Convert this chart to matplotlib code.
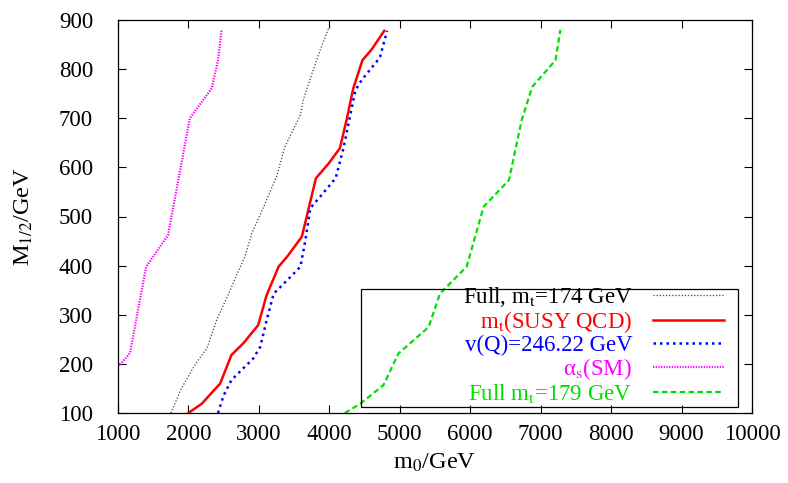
import matplotlib
matplotlib.use("Agg")
import matplotlib.pyplot as plt
from matplotlib.patches import Rectangle

plt.rcParams['font.family'] = ['Liberation Serif', 'DejaVu Serif']
plt.rcParams['mathtext.fontset'] = 'stix'

## curves: (m0, M1/2)
full174_m0 = [1750, 1900, 2100, 2260, 2400, 2570, 2800, 2900, 3090, 3250, 3370, 3590, 3630, 3730, 3870, 3990]
full174_M = [100, 150, 200, 231, 289, 343, 418, 466, 527, 581, 642, 707, 737, 781, 839, 883]

susy_m0 = [2000, 2190, 2450, 2610, 2780, 2990, 3110, 3280, 3400, 3610, 3810, 3990, 4150, 4250, 4340, 4470, 4600, 4780]
susy_M = [100, 119, 160, 218, 242, 279, 340, 398, 418, 459, 578, 608, 639, 700, 761, 818, 840, 878]

vq_m0 = [2420, 2500, 2610, 2920, 3020, 3110, 3210, 3400, 3590, 3660, 3730, 3850, 4090, 4200, 4370, 4460, 4670, 4720, 4820]
vq_M = [100, 136, 167, 211, 235, 289, 343, 370, 398, 452, 517, 537, 578, 639, 757, 778, 815, 825, 878]

alphas_m0 = [1000, 1100, 1170, 1400, 1710, 2020, 2330, 2420, 2470]
alphas_M = [195, 210, 222, 398, 462, 700, 761, 818, 880]

full179_m0 = [4220, 4440, 4770, 4980, 5410, 5570, 5950, 6190, 6550, 6730, 6880, 7210, 7280]
full179_M = [100, 119, 157, 221, 275, 343, 398, 520, 574, 696, 764, 818, 880]

text_colors = ['black', '#ff0000', '#0000ff', '#ff00ff', '#00e000']

xticks = list(range(1000, 10001, 1000))
yticks = list(range(100, 901, 100))

W, H = 788, 483
fig = plt.figure(figsize=(W/100, H/100), dpi=100)
ax = fig.add_axes([118/W, (H-413)/H, (752-118)/W, (413-20)/H])

ax.plot(full174_m0, full174_M, color='#444444', lw=0.9, ls=(0, (1, 1.5)), label='Full, m$_\\mathrm{t}$=174 GeV')
ax.plot(susy_m0, susy_M, color='#ff0000', lw=1.8, ls='-', label='m$_\\mathrm{t}$(SUSY QCD)')
ax.plot(vq_m0, vq_M, color='#0000ff', lw=1.8, ls=(0, (1, 1.6)), label='v(Q)=246.22 GeV')
ax.plot(alphas_m0, alphas_M, color='#ff00ff', lw=1.6, ls=(0, (0.6, 0.6)), label='α$_\\mathrm{s}$(SM)')
ax.plot(full179_m0, full179_M, color='#00e000', lw=1.6, ls=(0, (2.5, 1.5)), label='Full m$_\\mathrm{t}$=179 GeV')

ax.set_xlim(1000, 10000)
ax.set_ylim(100, 900)
ax.set_xticks(xticks)
ax.set_yticks(yticks)
ax.tick_params(direction='in', top=True, right=True, length=6, width=0.8, labelsize=16.5)
ax.tick_params(axis='x', pad=8)
ax.tick_params(axis='y', pad=18)
ax.set_xlabel('m$_\\mathrm{0}$/GeV', fontsize=17.5, labelpad=5)
ax.set_ylabel('M$_\\mathrm{1/2}$/GeV', fontsize=17.5, labelpad=17)
for s in ax.spines.values():
    s.set_linewidth(0.9)

## legend without fill, frame drawn as its own box
leg = ax.legend(loc='lower right', bbox_to_anchor=(724/W, (H-405)/H), bbox_transform=fig.transFigure,
                markerfirst=False, frameon=False,
                fontsize=16.5, handlelength=3.1, labelspacing=0.0, borderpad=0, handletextpad=0.9, borderaxespad=0)
for t, c in zip(leg.get_texts(), text_colors):
    t.set_color(c)
fig.patches.append(Rectangle((361/W, (H-407)/H), (738-361)/W, (407-289)/H, transform=fig.transFigure,
                             fill=False, edgecolor='black', lw=0.9, zorder=3))

fig.savefig('out.png', dpi=100)
